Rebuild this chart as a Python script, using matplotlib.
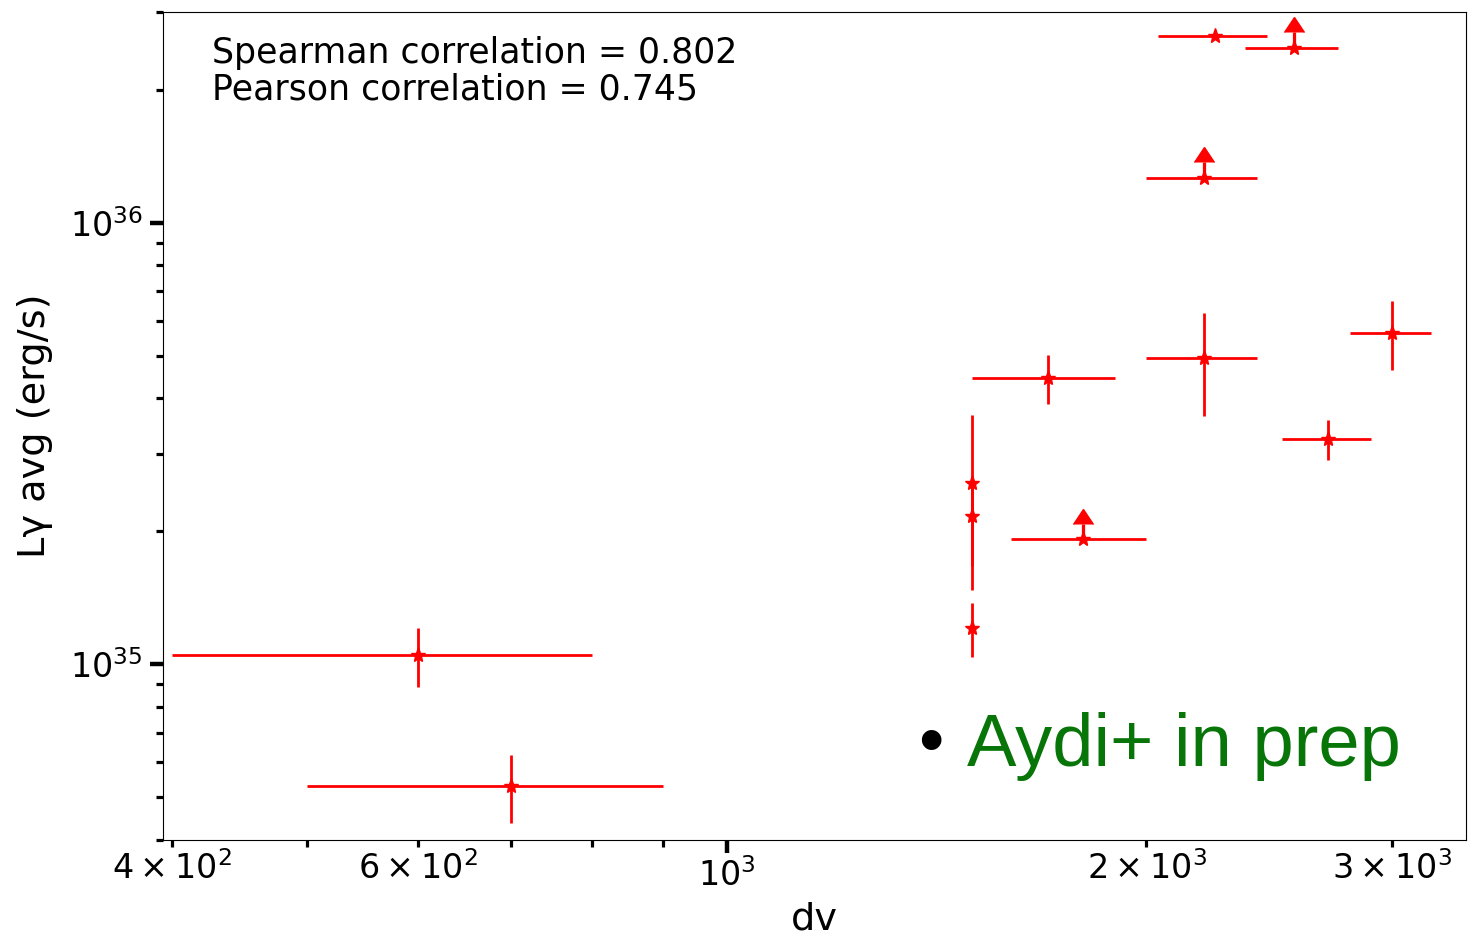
import numpy as np
import matplotlib
matplotlib.use("Agg")
import matplotlib.pyplot as plt

# ---- data ----
dv = [600, 700, 1500, 1500, 1500, 1700, 1800, 2200, 2200, 2240, 2550, 2700, 3000]
dv_err = [200, 200, np.nan, np.nan, np.nan, 200, 200, 200, 200, 200, 195, 200, 200]
L_gamma = [1.05e35, 5.3e34, 2.57e35, 2.17e35, 1.21e35, 4.45e35, 1.92e35,
           4.94e35, 1.265e36, 2.65e36, 2.49e36, 3.24e35, 5.63e35]
L_err = [0.16e35, 0.93e34, 1.1e35, 0.5e35, 0.17e35, 0.56e35, np.nan,
         1.3e35, np.nan, np.nan, np.nan, 0.34e35, 1.0e35]
# lower limits (drawn as upward arrows)
is_lower_limit = [False, False, False, False, False, False, True,
                  False, True, False, True, False, False]
arrow_frac = 0.085

spearman = 0.802
pearson = 0.745

x_lim = (394, 3390)
y_lim = (4e34, 3e36)

# ---- figure ----
fig = plt.figure(figsize=(14.76, 9.35), dpi=100)
ax = fig.add_axes([0.1104, 0.1016, 0.8828, 0.8856])
ax.set_xscale("log")
ax.set_yscale("log")

ax.errorbar(dv, L_gamma, xerr=dv_err, yerr=L_err, fmt="*", color="red",
            ecolor="red", markersize=11, elinewidth=2.0, capsize=0, zorder=3)

lim_x = [d for d, f in zip(dv, is_lower_limit) if f]
lim_y = [l for l, f in zip(L_gamma, is_lower_limit) if f]
lim_len = [arrow_frac * l for l in lim_y]
eb = ax.errorbar(lim_x, lim_y, yerr=lim_len, lolims=True, fmt="none",
                 ecolor="red", elinewidth=2.3, capsize=0, zorder=3)
for cl in eb[1]:
    cl.set_markersize(14)
    cl.set_markeredgewidth(1.0)
    cl.set_color("red")

ax.set_xlim(*x_lim)
ax.set_ylim(*y_lim)

ax.tick_params(axis="both", which="major", labelsize=24, length=9.5, width=3.2)
ax.tick_params(axis="both", which="minor", labelsize=24, length=5, width=2.3)
ax.tick_params(axis="y", which="both", pad=5)

ax.set_xlabel("dv", fontsize=27.5, labelpad=6)
ax.set_ylabel("Lγ avg (erg/s)", fontsize=27.5, labelpad=12)

ax.text(0.0376, 0.9388, f"Spearman correlation = {spearman}", transform=ax.transAxes,
        fontsize=25, va="baseline", ha="left")
ax.text(0.0376, 0.8937, f"Pearson correlation = {pearson}", transform=ax.transAxes,
        fontsize=25, va="baseline", ha="left")

ax.text(0.5795, 0.0918, "•", transform=ax.transAxes, fontsize=52,
        family="Liberation Sans", color="black", va="baseline", ha="left")
ax.text(0.617, 0.0894, "Aydi+ in prep", transform=ax.transAxes, fontsize=53.5,
        family="Liberation Sans", color="#087508", va="baseline", ha="left")

fig.savefig("out.png", dpi=100)
